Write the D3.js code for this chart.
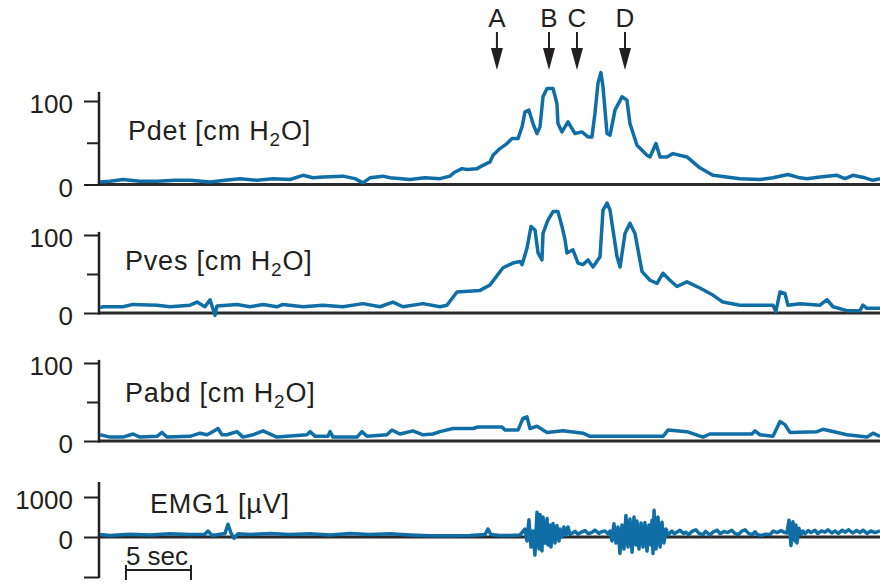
<!DOCTYPE html>
<html>
<head>
  <meta charset="utf-8">
  <title>Urodynamic traces</title>
  <script src="https://cdnjs.cloudflare.com/ajax/libs/d3/7.8.5/d3.min.js"></script>
  <style>
    body { margin: 0; background: #fff; }
    text { font-family: "Liberation Sans", Arial, sans-serif; fill: #231f20; }
  </style>
</head>
<body>
<script>
// [time in sec, value]; pressures in cm H2O, EMG in microvolts
var pdet = [[0.08,3],[0.85,4],[1.84,6],[3.15,4],[4.46,4],[5.84,5],[7.0,5],[8.53,3],[9.68,5],[10.83,7],[12.14,5],
  [13.37,7],[14.67,6],[15.67,11],[16.44,8],[17.21,9],[18.74,10],[19.67,7],[20.28,2],[20.82,8],[21.82,10],[22.35,8],
  [23.89,6],[25.04,8],[26.2,7],[26.96,10],[27.35,15],[27.89,19],[28.27,18],[29.04,19],[29.5,23],[30.04,27],[30.27,35],
  [30.8,43],[31.34,49],[31.73,55],[32.19,55],[32.5,69],[32.73,87],[33.03,89],[33.34,73],[33.65,61],[33.88,69],
  [34.11,105],[34.42,115],[34.88,115],[35.18,97],[35.26,73],[35.57,63],[36.03,75],[36.34,67],[36.57,61],[37.1,63],
  [37.57,57],[37.87,57],[38.1,85],[38.34,122],[38.56,134],[38.72,117],
  [39.03,61],[39.26,59],[39.64,89],[40.18,105],[40.56,101],[40.79,73],[41.33,47],[42.1,35],[42.33,33],[42.79,49],
  [43.1,33],[43.63,33],[44.09,37],[45.17,33],[46.16,20],[47.16,11],[49.24,7],[50.78,6],[51.78,8],[52.93,12],[53.85,8],
  [54.39,7],[55.39,9],[56.69,11],[57.31,7],[57.92,11],[58.84,8],[59.46,5],[60,7]];

var pves = [[0.08,7],[0.31,8],[1.84,8],[2.61,11],[4.46,10],[5.45,8],[6.99,10],[7.53,14],[8.14,8],[8.53,17],[8.91,-3],
  [9.06,9],[10.6,11],[11.6,8],[12.6,11],[13.67,8],[14.13,11],[15.67,8],[17.21,10],[18.74,8],[20.28,12],[21.59,8],
  [22.58,14],[23.35,8],[24.89,12],[26.2,8],[26.73,10],[27.5,27],[29.27,29],[30.04,36],[31.04,58],[31.8,64],[32.34,66],
  [32.5,62],[32.88,83],[33.19,111],[33.5,106],[33.73,77],[34.03,68],[34.11,102],[34.49,119],[34.88,130],[35.26,130],
  [35.57,111],[35.8,94],[35.95,77],[36.41,81],[36.8,64],[37.18,62],[37.57,68],[37.95,59],[38.49,72],[38.72,132],
  [39.03,141],[39.26,132],[39.49,106],[39.8,72],[40.03,59],[40.41,102],[40.79,115],[41.18,102],[41.41,81],[41.72,53],
  [42.33,42],[42.87,38],[43.33,51],[43.86,42],[44.4,34],[45.17,40],[46.16,32],[47.16,23],[47.93,14],[49.24,10],
  [51.78,10],[52.0,2],[52.32,27],[52.7,25],[52.93,10],[53.85,12],[55.39,10],[55.93,17],[56.39,8],[57.46,3],[58.46,3],
  [58.69,10],[59.0,6],[60,6]];

var pabd = [[0.08,8],[0.85,5],[1.84,5],[2.61,9],[3.15,5],[4.46,6],[4.84,11],[5.22,5],[6.99,6],[7.76,10],[8.3,8],
  [8.76,12],[9.14,16],[9.45,8],[9.83,8],[10.6,12],[11.06,5],[11.83,8],[12.6,13],[13.67,5],[15.98,8],[16.21,12],
  [16.59,6],[17.59,6],[17.75,12],[17.98,5],[19.82,5],[20.2,12],[20.59,6],[22.12,8],[22.51,14],[23.12,9],[24.12,13],
  [24.89,8],[25.66,9],[26.2,12],[27.19,16],[28.73,16],[29.11,18],[30.96,18],[31.19,14],[32.19,14],[32.57,29],
  [32.88,31],[33.11,16],[33.65,19],[34.42,11],[35.65,13],[37.18,10],[37.72,6],[43.33,6],[43.71,14],[45.17,12],
  [46.4,5],[46.93,9],[50.16,9],[50.39,13],[50.78,8],[51.78,6],[52.32,25],[52.7,21],[53.08,11],[55.16,12],[55.62,15],
  [57.46,8],[59.0,5],[59.46,10],[60,6]];

var emg = [[0.08,60],[0.85,40],[2.38,70],[3.92,50],[5.45,80],[6.99,60],[8.14,70],[8.37,150],[8.68,40],[9.68,90],
  [9.91,320],[10.14,100],[10.37,-30],[10.68,80],[11.6,60],[13.14,90],[14.67,60],[16.21,80],[17.75,50],[19.28,90],
  [20.82,60],[22.35,80],[23.89,50],[25.43,30],[26.96,30],[28.5,40],[29.65,60],[29.88,200],[30.11,60],[30.8,40],
  [31.57,40],[32.34,50],
  [32.73,200],[32.88,-100],[33.03,430],[33.19,-250],[33.34,150],[33.49,-450],[33.65,620],[33.8,-300],[33.88,560],
  [34.03,-350],[34.11,500],[34.26,-150],[34.42,460],[34.49,-200],[34.65,300],[34.72,-250],[34.88,340],[35.03,-150],
  [35.18,290],[35.34,-100],[35.41,200],[35.57,0],[35.72,250],[35.88,50],[36.03,250],[36.18,60],
  [36.57,140],[36.8,70],[37.0,110],[37.33,160],[37.6,80],[37.9,120],[38.1,170],[38.4,90],[38.6,130],[38.87,150],
  [39.1,80],
  [39.26,150],[39.41,-100],[39.56,330],[39.72,-150],[39.87,250],[40.02,-410],[40.18,300],[40.33,-300],[40.48,540],
  [40.64,-250],[40.79,450],[40.95,-380],[41.1,500],[41.25,-200],[41.33,400],[41.48,-300],[41.64,350],[41.79,-250],
  [41.94,360],[42.1,-350],[42.25,300],[42.4,-200],[42.48,420],[42.56,-410],[42.64,670],[42.79,-300],[42.94,500],
  [43.1,-250],[43.25,370],[43.4,-150],[43.56,200],[43.71,50],
  [44.02,150],[44.2,80],[44.45,130],[44.63,170],[44.9,90],[45.1,120],[45.3,60],[45.55,140],[45.86,180],[46.1,90],
  [46.4,60],[46.6,140],[46.94,50],[47.2,130],[47.5,170],[47.71,80],[48.0,140],[48.3,110],[48.6,170],[48.86,90],
  [49.1,60],[49.4,150],[49.63,180],[49.9,90],[50.2,60],[50.39,130],[50.6,60],[50.9,40],[51.2,70],[51.55,60],
  [51.8,150],[52.1,110],[52.4,160],[52.62,120],
  [52.85,100],[53.01,420],[53.16,-210],[53.31,380],[53.47,-100],[53.54,300],[53.62,-150],[53.77,220],[53.93,60],
  [54.08,150],
  [54.24,80],[54.5,160],[54.7,110],[55.0,170],[55.2,90],[55.5,150],[55.77,120],[56.0,180],[56.3,100],[56.54,150],
  [56.8,90],[57.1,170],[57.31,120],[57.6,180],[57.9,100],[58.2,160],[58.46,110],[58.7,170],[59.0,90],[59.3,150],
  [59.61,110],[60,150]];

// event markers above the traces
var eventNames = ['A', 'B', 'C', 'D'];
var eventTimes = [30.57, 34.57, 36.72, 40.41];

// time scale bar
var barStart = 2.07, barLength = 5;

var width = 880,
    height = 585,
    blue = '#0f6ea6',
    ink = '#231f20';

var svg = d3.select('body')
  .append('svg')
  .attr('width', width)
  .attr('height', height);

var x = d3.scaleLinear().domain([0, 60]).range([99, 880]);

// one entry per trace: its data, y range on the page and label bits
var panels = [
  { data: pdet, name: 'Pdet', sub: true, domain: [0, 100], range: [184.5, 101], ticks: [0, 50, 100], labels: [0, 100], axisTop: 111, lx: 128, ly: 140 },
  { data: pves, name: 'Pves', sub: true, domain: [0, 100], range: [313, 235], ticks: [0, 50, 100], labels: [0, 100], axisTop: 104, lx: 125, ly: 270 },
  { data: pabd, name: 'Pabd', sub: true, domain: [0, 100], range: [441, 363], ticks: [0, 50, 100], labels: [0, 100], axisTop: 104, lx: 125, ly: 402 },
  { data: emg, name: 'EMG1', sub: false, domain: [-1000, 1000], range: [577, 497], ticks: [-1000, 0, 1000], labels: [0, 1000], axisTop: 1375, axisBottom: -1025, lx: 150, ly: 513 }
];

panels.forEach(function(p) {
  var y = d3.scaleLinear().domain(p.domain).range(p.range);
  var g = svg.append('g');

  // baseline at zero
  g.append('line')
    .attr('x1', x(0)).attr('x2', x(60))
    .attr('y1', y(0)).attr('y2', y(0))
    .attr('stroke', '#2b2b2b')
    .attr('stroke-width', 3);

  // left axis with ticks
  var axis = d3.axisLeft(y)
    .tickValues(p.ticks)
    .tickSize(15)
    .tickSizeOuter(0)
    .tickPadding(11)
    .tickFormat(function(d) { return p.labels.indexOf(d) >= 0 ? d : ''; });

  var ag = g.append('g')
    .attr('transform', 'translate(' + x(0) + ',0)')
    .call(axis);
  ag.select('.domain').remove();
  ag.selectAll('.tick line')
    .attr('stroke', ink)
    .attr('stroke-width', 2)
    .attr('x2', function(d) { return p.labels.indexOf(d) >= 0 || d < 0 ? -15 : -12; });
  ag.selectAll('.tick text')
    .attr('fill', ink)
    .attr('dy', '0.45em')
    .style('font-size', '26px')
    .style('font-family', '"Liberation Sans", Arial, sans-serif');

  var bottom = p.axisBottom !== undefined ? y(p.axisBottom) : y(0) + 1.5;
  g.append('line')
    .attr('x1', x(0)).attr('x2', x(0))
    .attr('y1', bottom).attr('y2', y(p.axisTop))
    .attr('stroke', ink)
    .attr('stroke-width', 2.5);

  // trace
  g.append('path')
    .datum(p.data)
    .attr('fill', 'none')
    .attr('stroke', blue)
    .attr('stroke-width', 3.5)
    .attr('stroke-linejoin', 'round')
    .attr('d', d3.line()
      .x(function(d) { return x(d[0]); })
      .y(function(d) { return y(d[1]); }));

  // channel label
  var t = g.append('text')
    .attr('x', p.lx)
    .attr('y', p.ly)
    .style('font-size', '27px')
    .style('letter-spacing', '0.8px');
  if (p.sub) {
    t.append('tspan').text(p.name + ' [cm H');
    t.append('tspan').text('2').attr('dy', 6).style('font-size', '19px');
    t.append('tspan').text('O]').attr('dy', -6);
  } else {
    t.text(p.name + ' [\u00b5V]');
  }
});

// event arrows
var ev = svg.append('g')
  .selectAll('g')
  .data(eventTimes)
  .enter()
  .append('g')
  .attr('transform', function(d) { return 'translate(' + x(d) + ',0)'; });

ev.append('text')
  .attr('y', 27)
  .attr('text-anchor', 'middle')
  .style('font-size', '26px')
  .text(function(d, i) { return eventNames[i]; });

ev.append('line')
  .attr('y1', 32).attr('y2', 52)
  .attr('stroke', ink)
  .attr('stroke-width', 2);

ev.append('path')
  .attr('d', 'M-6,48L6,48L0,70Z')
  .attr('fill', ink);

// 5 sec scale bar
var sb = svg.append('g');
sb.append('line')
  .attr('x1', x(barStart)).attr('x2', x(barStart + barLength))
  .attr('y1', 570).attr('y2', 570)
  .attr('stroke', ink).attr('stroke-width', 2);
[barStart, barStart + barLength].forEach(function(t) {
  sb.append('line')
    .attr('x1', x(t)).attr('x2', x(t))
    .attr('y1', 565).attr('y2', 580)
    .attr('stroke', ink).attr('stroke-width', 2);
});
sb.append('text')
  .attr('x', x(barStart))
  .attr('y', 565)
  .style('font-size', '26px')
  .text(barLength + ' sec');
</script>
</body>
</html>
